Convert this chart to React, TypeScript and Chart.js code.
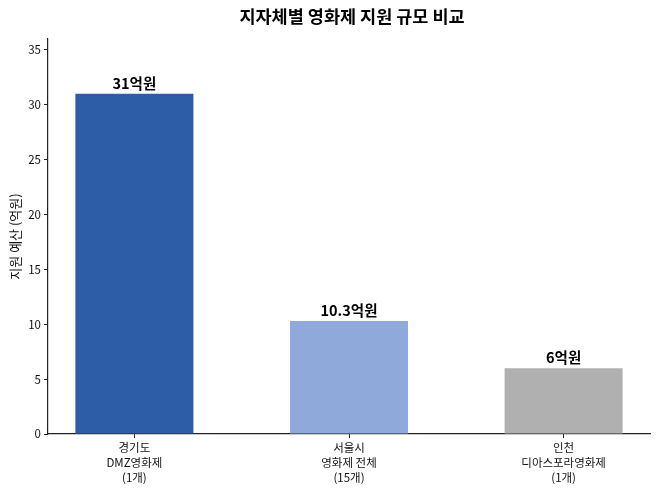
import React, { useEffect, useRef } from "react";
import { Chart, registerables } from "chart.js";

Chart.register(...registerables);

const categories: string[][] = [
  ["경기도", "DMZ영화제", "(1개)"],
  ["서울시", "영화제 전체", "(15개)"],
  ["인천", "디아스포라영화제", "(1개)"],
];
const values: number[] = [31, 10.3, 6];
const valueLabels: string[] = ["31억원", "10.3억원", "6억원"];
const barColors: string[] = ["#2E5DA8", "#8FA9DB", "#B0B0B0"];
const yTicks: number[] = [0, 5, 10, 15, 20, 25, 30, 35];
const chartTitle = "지자체별 영화제 지원 규모 비교";
const yTitle = "지원 예산 (억원)";

const FONT = "'Noto Sans CJK KR', 'Noto Sans', sans-serif";

export default function App() {
  const ref = useRef<HTMLCanvasElement | null>(null);

  useEffect(() => {
    document.body.style.margin = "0";
    const canvas = ref.current;
    if (!canvas) return;

    const labelPlugin = {
      id: "valueLabels",
      afterDatasetsDraw(chart: any) {
        const ctx = chart.ctx;
        const meta = chart.getDatasetMeta(0);
        ctx.save();
        ctx.font = `bold 14.5px ${FONT}`;
        ctx.fillStyle = "#000";
        ctx.textAlign = "center";
        ctx.textBaseline = "bottom";
        meta.data.forEach((bar: any, i: number) => {
          ctx.fillText(valueLabels[i], bar.x, bar.y - 3);
        });
        ctx.restore();
      },
    };

    const titlePlugin = {
      id: "customTitle",
      afterDraw(chart: any) {
        const ctx = chart.ctx;
        const area = chart.chartArea;
        ctx.save();
        ctx.font = `bold 17.5px ${FONT}`;
        ctx.fillStyle = "#000";
        ctx.textAlign = "center";
        ctx.textBaseline = "middle";
        ctx.fillText(chartTitle, (area.left + area.right) / 2 + 3, 16);
        ctx.restore();
      },
    };

    const chart = new Chart(canvas, {
      type: "bar",
      data: {
        datasets: [
          {
            data: values.map((v, i) => ({ x: i, y: v })),
            backgroundColor: barColors,
            borderColor: barColors,
            borderWidth: 0,
            barPercentage: 0.55,
            categoryPercentage: 1,
          },
        ],
      },
      options: {
        animation: false,
        responsive: false,
        maintainAspectRatio: false,
        layout: { padding: { top: 39, right: 8, left: 0, bottom: 0 } },
        plugins: {
          legend: { display: false },
          tooltip: { enabled: false },
          title: { display: false },
        },
        scales: {
          x: {
            type: "linear",
            min: -0.4025,
            max: 2.4025,
            offset: false,
            afterBuildTicks(scale: any) {
              scale.ticks = categories.map((_, i) => ({ value: i }));
            },
            afterFit(scale: any) {
              scale.height = 58;
            },
            ticks: {
              autoSkip: false,
              maxRotation: 0,
              padding: 2,
              color: "#111",
              font: { family: FONT, size: 11.5, lineHeight: 1.3 },
              callback: (v: any) => categories[Number(v)] ?? "",
            },
            grid: {
              display: true,
              offset: false,
              drawOnChartArea: false,
              drawTicks: true,
              tickLength: 4,
              color: "#222",
            },
            border: { display: true, color: "#222", width: 1.2 },
          },
          y: {
            type: "linear",
            min: 0,
            max: 36,
            afterBuildTicks(scale: any) {
              scale.ticks = yTicks.map((v) => ({ value: v }));
            },
            afterFit(scale: any) {
              scale.width = 48;
            },
            ticks: {
              color: "#111",
              padding: 3,
              font: { family: FONT, size: 11.5 },
            },
            grid: {
              display: true,
              drawOnChartArea: false,
              drawTicks: true,
              tickLength: 4,
              color: "#222",
            },
            border: { display: true, color: "#222", width: 1.2 },
            title: {
              display: true,
              text: yTitle,
              color: "#111",
              font: { family: FONT, size: 13 },
              padding: { top: 7, bottom: 0 },
            },
          },
        },
      },
      plugins: [labelPlugin, titlePlugin],
    } as any);

    return () => chart.destroy();
  }, []);

  return (
    <div style={{ width: 658, height: 492, background: "#fff" }}>
      <canvas ref={ref} width={658} height={492} style={{ width: 658, height: 492, display: "block" }} />
    </div>
  );
}
